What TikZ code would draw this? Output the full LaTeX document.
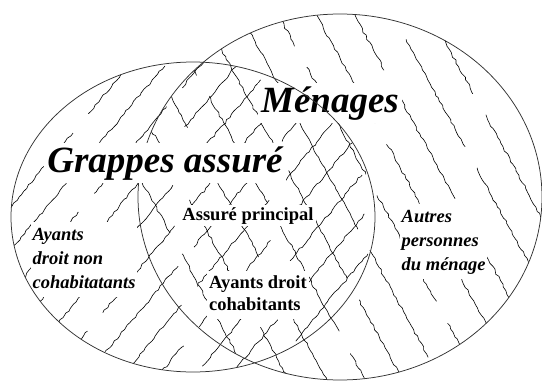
\documentclass[tikz,border=0pt]{standalone}
\usepackage{fontspec}
\setmainfont{Liberation Serif}
\usetikzlibrary{decorations.pathmorphing}
\begin{document}
\begin{tikzpicture}[x=1pt,y=-1pt,
  hatch/.style={line width=0.6pt, decorate,
    decoration={random steps, segment length=4pt, amplitude=1pt}},
  rim/.style={line width=0.75pt, draw=black!80},
  ttl/.style={font=\fontsize{37}{40}\selectfont\bfseries\itshape, fill=white, inner sep=3pt},
  txt/.style={font=\fontsize{18.5}{24}\selectfont\bfseries, fill=white, inner sep=2pt},
  itxt/.style={font=\fontsize{18.5}{24}\selectfont\bfseries\itshape, fill=white, inner sep=1.5pt}]
\pgfmathsetseed{11}
\useasboundingbox (0,0) rectangle (542,381);
\fill[white] (0,0) rectangle (542,381);
% left hatching (/)
\begin{scope}
  \clip (193,217) ellipse [x radius=182pt, y radius=155pt];
  \foreach \x [count=\i] in {-330,-294,...,390} {
    \pgfmathsetmacro\ph{mod(\i*53,140)}
    \draw[hatch, dash pattern=on 115pt off 25pt, dash phase=\ph pt] (\x,400) -- ++(333,-400);
  }
\end{scope}
% right hatching (\)
\begin{scope}
  \clip (340,197) ellipse [x radius=202pt, y radius=183pt];
  \foreach \x [count=\i] in {-110,-72,...,560} {
    \pgfmathsetmacro\ph{mod(\i*61,150)}
    \draw[hatch, dash pattern=on 125pt off 25pt, dash phase=\ph pt] (\x,0) -- ++(220,400);
  }
\end{scope}
\draw[rim] (340,197) ellipse [x radius=202pt, y radius=183pt];
% labels
\node[ttl, anchor=base] (men) at (330,112) {Ménages};
\node[ttl, anchor=base] (grp) at (165,172) {Grappes assuré};
\node[txt, anchor=base] (ap) at (248,220) {Assuré principal};
\node[txt, anchor=base west] (adc) at (207,288)
  {\fontsize{18.5}{22}\selectfont\begin{tabular}[t]{@{}l@{}}Ayants droit\\cohabitants\end{tabular}};
\node[itxt, anchor=base west] (adn) at (31,240)
  {\begin{tabular}[t]{@{}l@{}}Ayants\\droit non\\cohabitatants\end{tabular}};
\node[itxt, anchor=base west] (apm) at (400,222)
  {\begin{tabular}[t]{@{}l@{}}Autres\\personnes\\du ménage\end{tabular}};
\draw[rim] (193,217) ellipse [x radius=182pt, y radius=155pt];
\end{tikzpicture}
\end{document}
